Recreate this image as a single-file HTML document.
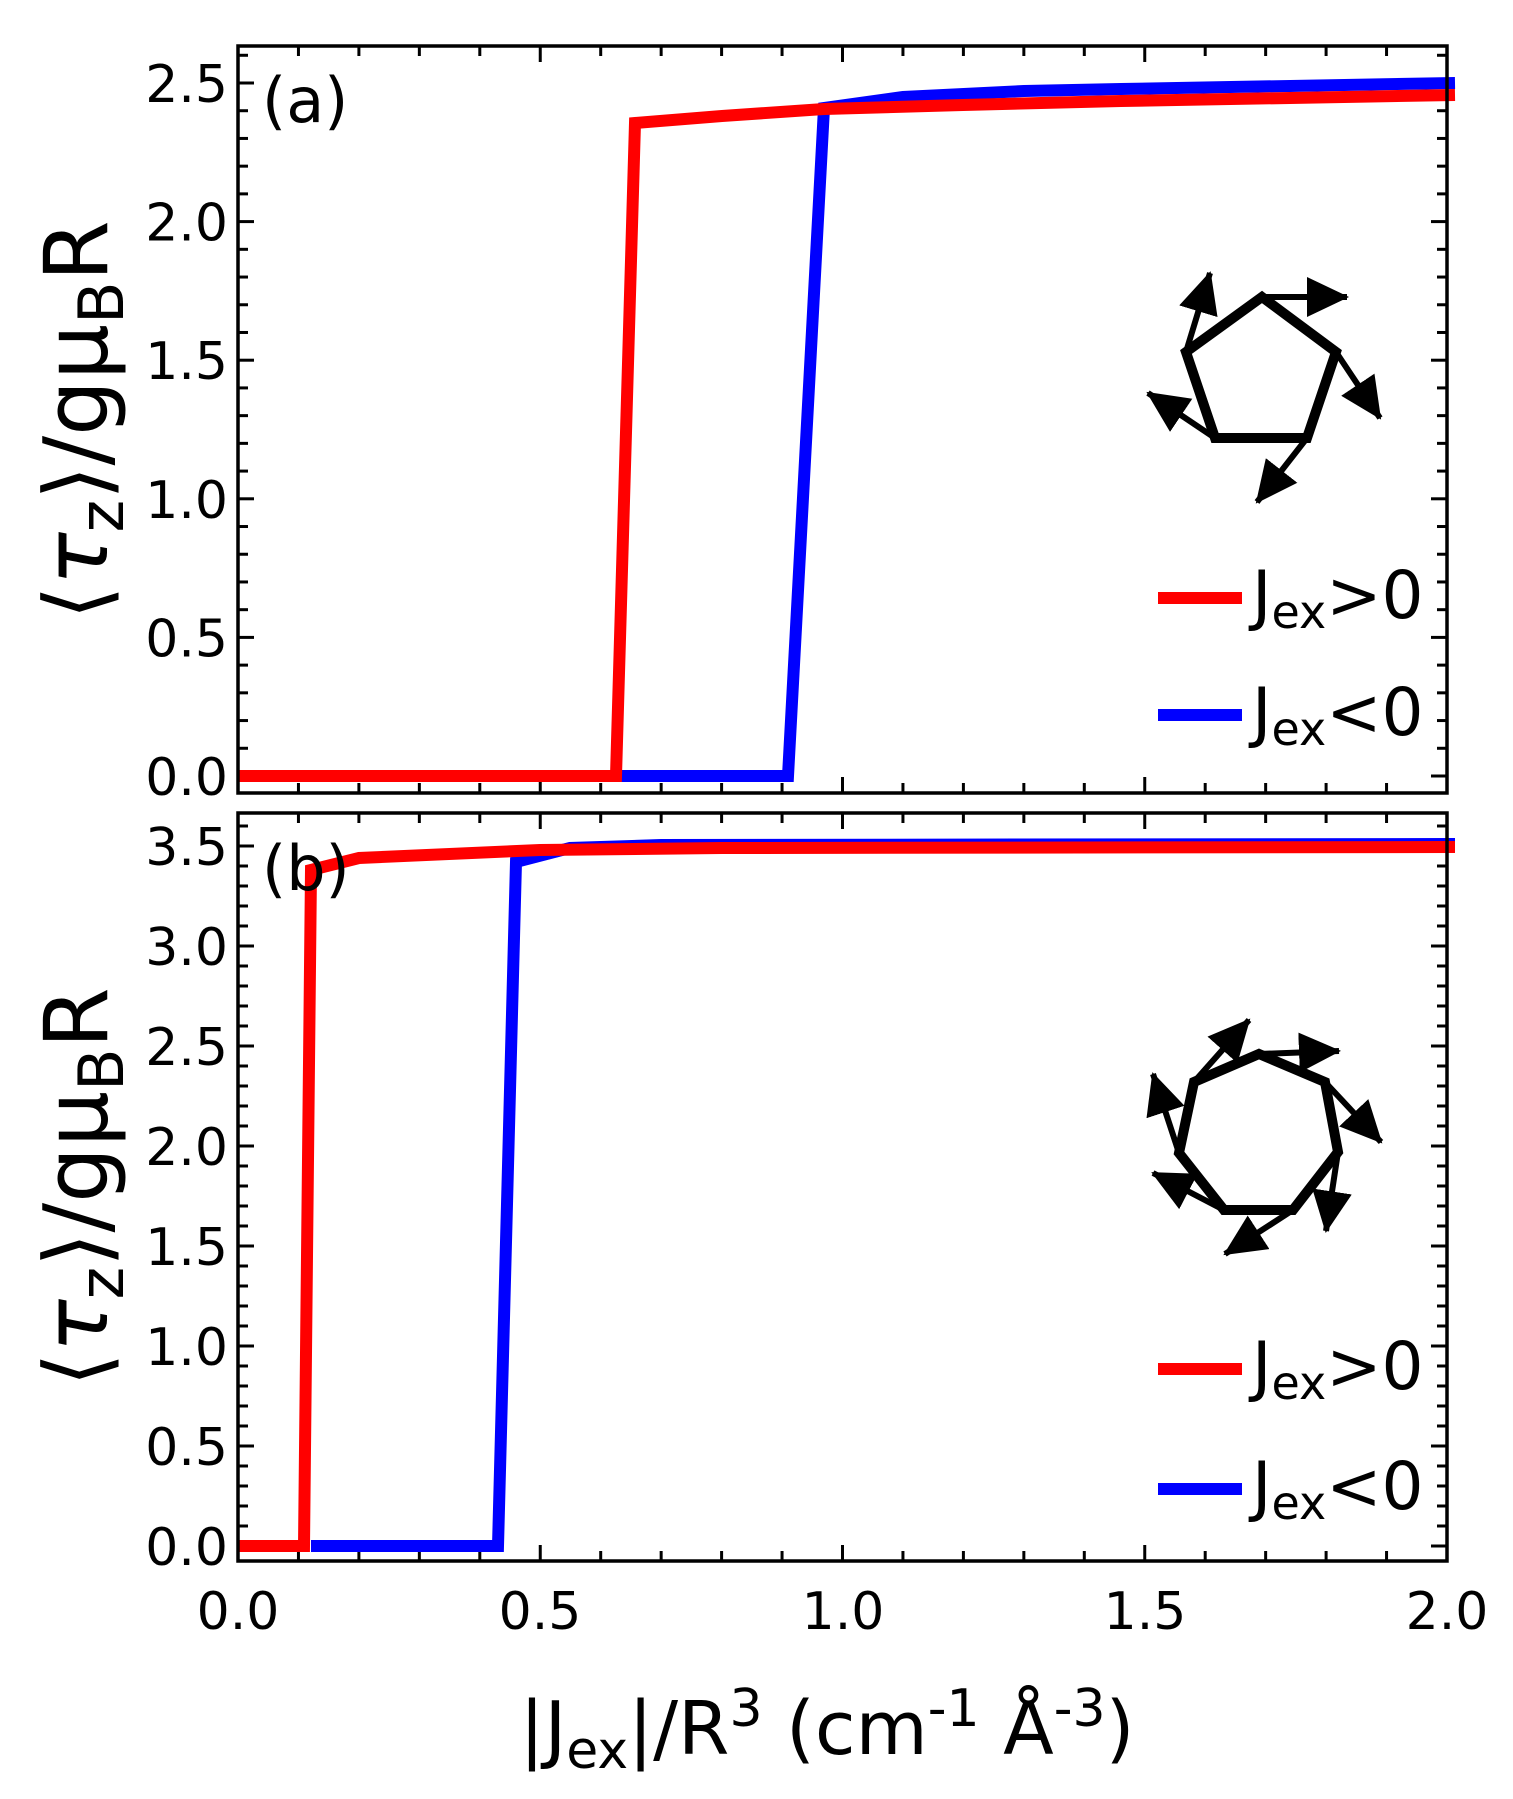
<!DOCTYPE html>
<html><head><meta charset="utf-8"><style>
html,body{margin:0;padding:0;background:#fff}
svg{display:block}
text{font-family:"DejaVu Sans","Liberation Sans",sans-serif;fill:#000}
</style></head><body>
<svg id="s" width="1513" height="1799" viewBox="0 0 1513 1799" xmlns="http://www.w3.org/2000/svg">
<defs>
<marker id="ah" markerUnits="userSpaceOnUse" markerWidth="44" markerHeight="40" refX="40" refY="20" orient="auto">
<path d="M0,0 L42,20 L0,40 Z" fill="#000"/>
</marker>
</defs>
<g id="ticks" stroke="#000" stroke-width="3"></g>
<polyline fill="none" stroke="#0000ff" stroke-width="12" points="616,776 788,776 824,108 903,97 1024,91 1121,89 1455,83"/>
<polyline fill="none" stroke="#ff0000" stroke-width="12" points="238,776 616,776 635,123 722,116 824,109 963,105 1121,101 1455,95"/>
<polyline fill="none" stroke="#0000ff" stroke-width="12" points="311,1546 498,1546 516,862 570,848 661,845 1455,844"/>
<polyline fill="none" stroke="#ff0000" stroke-width="12" points="238,1546 304,1546 311,870 359,858 540,850 722,848 1455,847"/>
<rect x="238" y="46" width="1209" height="747" fill="none" stroke="#000" stroke-width="3.5"/>
<rect x="238" y="813" width="1209" height="748" fill="none" stroke="#000" stroke-width="3.5"/>
<text x="262" y="122" font-size="62">(a)</text>
<text x="262" y="890" font-size="62">(b)</text>
<g font-size="52" text-anchor="end" id="yl"></g>
<g font-size="52" text-anchor="middle">
<text x="238" y="1629">0.0</text><text x="540" y="1629">0.5</text><text x="843" y="1629">1.0</text><text x="1145" y="1629">1.5</text><text x="1447" y="1629">2.0</text>
</g>
<text x="827" y="1754" font-size="74" text-anchor="middle">|J<tspan font-size="52" dy="14">ex</tspan><tspan dy="-14">|/R</tspan><tspan font-size="52" dy="-28">3</tspan><tspan dy="28"> (cm</tspan><tspan font-size="52" dy="-28">-1</tspan><tspan dy="28"> Å</tspan><tspan font-size="52" dy="-28">-3</tspan><tspan dy="28">)</tspan></text>
<text transform="translate(107,420) rotate(-90)" font-size="88" text-anchor="middle">⟨<tspan font-style="italic">τ</tspan><tspan font-size="62" dy="16">z</tspan><tspan dy="-16">⟩/gμ</tspan><tspan font-size="62" dy="16">B</tspan><tspan dy="-16">R</tspan></text>
<text transform="translate(107,1187) rotate(-90)" font-size="88" text-anchor="middle">⟨<tspan font-style="italic">τ</tspan><tspan font-size="62" dy="16">z</tspan><tspan dy="-16">⟩/gμ</tspan><tspan font-size="62" dy="16">B</tspan><tspan dy="-16">R</tspan></text>
<line x1="1158" y1="598" x2="1242" y2="598" stroke="#ff0000" stroke-width="12"/>
<line x1="1158" y1="715" x2="1242" y2="715" stroke="#0000ff" stroke-width="12"/>
<text x="1252" y="618" font-size="66">J<tspan font-size="46" dy="10">ex</tspan><tspan dy="-10">&gt;0</tspan></text>
<text x="1252" y="735" font-size="66">J<tspan font-size="46" dy="10">ex</tspan><tspan dy="-10">&lt;0</tspan></text>
<line x1="1158" y1="1369" x2="1242" y2="1369" stroke="#ff0000" stroke-width="12"/>
<line x1="1158" y1="1489" x2="1242" y2="1489" stroke="#0000ff" stroke-width="12"/>
<text x="1252" y="1389" font-size="66">J<tspan font-size="46" dy="10">ex</tspan><tspan dy="-10">&gt;0</tspan></text>
<text x="1252" y="1509" font-size="66">J<tspan font-size="46" dy="10">ex</tspan><tspan dy="-10">&lt;0</tspan></text>
<g stroke="#000" fill="none">
<polygon points="1262,297 1336,352 1307,438 1215,438 1186,352" stroke-width="10"/>
<g stroke-width="6" marker-end="url(#ah)">
<line x1="1262" y1="297" x2="1347" y2="297"/>
<line x1="1336" y1="352" x2="1380" y2="418"/>
<line x1="1307" y1="438" x2="1257" y2="502"/>
<line x1="1215" y1="438" x2="1148" y2="393"/>
<line x1="1186" y1="352" x2="1210" y2="273"/>
</g>
<polygon points="1259,1054 1325,1082 1338,1152 1293,1210 1224,1210 1179,1153 1194,1082" stroke-width="10"/>
<g stroke-width="6" marker-end="url(#ah)">
<line x1="1259" y1="1054" x2="1339" y2="1051"/>
<line x1="1325" y1="1082" x2="1381" y2="1142"/>
<line x1="1338" y1="1152" x2="1326" y2="1231"/>
<line x1="1293" y1="1210" x2="1225" y2="1254"/>
<line x1="1224" y1="1210" x2="1153" y2="1173"/>
<line x1="1179" y1="1153" x2="1153" y2="1074"/>
<line x1="1194" y1="1082" x2="1249" y2="1020"/>
</g>
</g>
</svg>
<script>
(function(){
var t=document.getElementById('ticks'),yl=document.getElementById('yl'),ns='http://www.w3.org/2000/svg';
function L(x1,y1,x2,y2){var l=document.createElementNS(ns,'line');l.setAttribute('x1',x1);l.setAttribute('y1',y1);l.setAttribute('x2',x2);l.setAttribute('y2',y2);t.appendChild(l);}
function T(x,y,s){var e=document.createElementNS(ns,'text');e.setAttribute('x',x);e.setAttribute('y',y);e.textContent=s;yl.appendChild(e);}
var panels=[[46,793],[813,1561]];
for(var i=0;i<=20;i++){var x=238+604.5*i/10;var len=(i%5==0)?16:10;
 panels.forEach(function(p){L(x,p[1],x,p[1]-len);L(x,p[0],x,p[0]+len);});}
for(var k=0;k<=26;k++){var y=776-27.72*k;if(y<46)continue;var len=(k%5==0)?16:10;L(238,y,238+len,y);L(1447,y,1447-len,y);
 if(k%5==0)T(228,y+19,(k/10).toFixed(1));}
for(var k=0;k<=36;k++){var y=1546-20*k;if(y<813)continue;var len=(k%5==0)?16:10;L(238,y,238+len,y);L(1447,y,1447-len,y);
 if(k%5==0)T(228,y+19,(k/10).toFixed(1));}
})();
</script>
</body></html>
